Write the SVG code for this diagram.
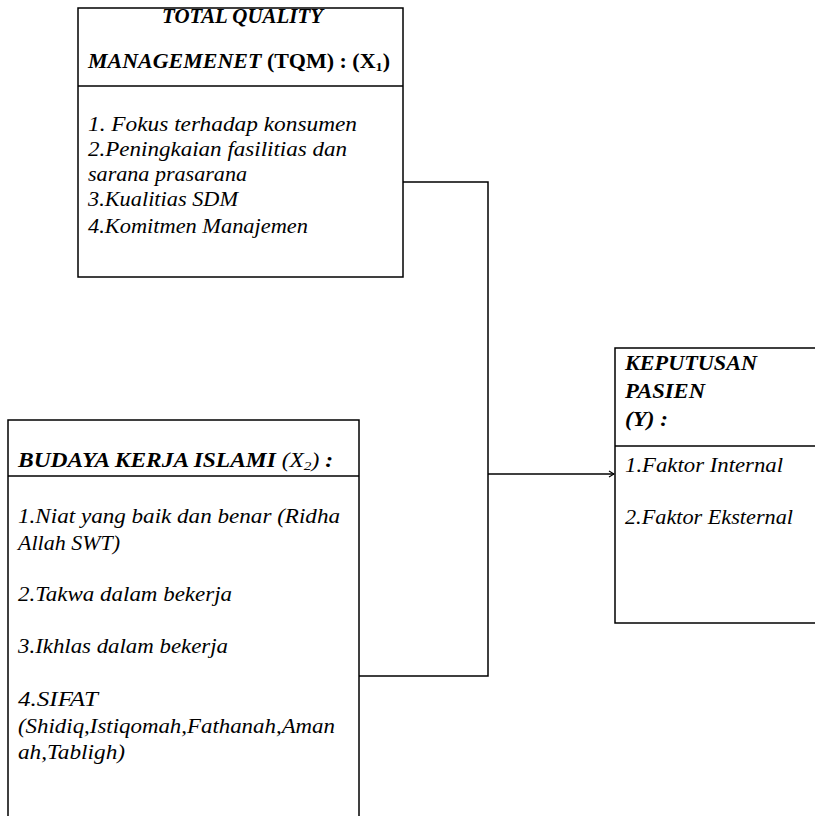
<svg xmlns="http://www.w3.org/2000/svg" width="815" height="816" viewBox="0 0 815 816">
<style>
  .box { fill: #ffffff; stroke: #000000; stroke-width: 1.5; }
  .div { stroke: #000000; stroke-width: 1.5; fill: none; }
  .conn { stroke: #000000; stroke-width: 1.5; fill: none; }
  text { font-family: "Liberation Serif", "Times New Roman", serif; fill: #000000; }
  .title { font-size: 20px; font-weight: bold; font-style: italic; }
  .item { font-size: 20px; font-style: italic; }
</style>
<defs>
  <marker id="arrow" markerWidth="8" markerHeight="8" refX="7" refY="4" orient="auto" markerUnits="userSpaceOnUse">
    <path d="M2,1 L7,4 L2,7" fill="none" stroke="#000" stroke-width="1.2"/>
  </marker>
</defs>
<rect width="815" height="816" fill="#ffffff"/>

<g id="connectors">
  <polyline class="conn" points="403,182 488,182 488,676 359,676"/>
  <line class="conn" x1="488" y1="474" x2="614" y2="474" marker-end="url(#arrow)"/>
</g>

<g id="tqm">
  <rect class="box" x="78" y="8" width="325" height="269"/>
  <line class="div" x1="78" y1="86" x2="403" y2="86"/>
  <text class="title" x="162" y="23" textLength="161" lengthAdjust="spacingAndGlyphs">TOTAL QUALITY</text>
  <text class="title" x="88" y="68" textLength="302" lengthAdjust="spacingAndGlyphs">MANAGEMENET <tspan font-style="normal">(TQM) : (X</tspan><tspan font-style="normal" font-size="13" dy="3">1</tspan><tspan font-style="normal" dy="-3">)</tspan></text>
  <text class="item" x="88" y="131" textLength="269" lengthAdjust="spacingAndGlyphs">1. Fokus terhadap konsumen</text>
  <text class="item" x="88" y="156" textLength="259" lengthAdjust="spacingAndGlyphs">2.Peningkaian fasilitias dan</text>
  <text class="item" x="88" y="181" textLength="159" lengthAdjust="spacingAndGlyphs">sarana prasarana</text>
  <text class="item" x="88" y="206" textLength="150" lengthAdjust="spacingAndGlyphs">3.Kualitias SDM</text>
  <text class="item" x="88" y="233" textLength="220" lengthAdjust="spacingAndGlyphs">4.Komitmen Manajemen</text>
</g>

<g id="budaya">
  <rect class="box" x="8" y="420" width="351" height="420"/>
  <line class="div" x1="8" y1="476" x2="359" y2="476"/>
  <text class="title" x="18" y="467" textLength="315" lengthAdjust="spacingAndGlyphs">BUDAYA KERJA ISLAMI <tspan font-weight="normal">(X</tspan><tspan font-weight="normal" font-size="13" dy="3">2</tspan><tspan font-weight="normal" dy="-3">)</tspan> :</text>
  <text class="item" x="18" y="523" textLength="322" lengthAdjust="spacingAndGlyphs">1.Niat yang baik dan benar (Ridha</text>
  <text class="item" x="18" y="550" textLength="102" lengthAdjust="spacingAndGlyphs">Allah SWT)</text>
  <text class="item" x="18" y="601" textLength="214" lengthAdjust="spacingAndGlyphs">2.Takwa dalam bekerja</text>
  <text class="item" x="18" y="653" textLength="210" lengthAdjust="spacingAndGlyphs">3.Ikhlas dalam bekerja</text>
  <text class="item" x="18" y="706" textLength="80" lengthAdjust="spacingAndGlyphs">4.SIFAT</text>
  <text class="item" x="18" y="733" textLength="317" lengthAdjust="spacingAndGlyphs">(Shidiq,Istiqomah,Fathanah,Aman</text>
  <text class="item" x="18" y="759" textLength="107" lengthAdjust="spacingAndGlyphs">ah,Tabligh)</text>
</g>

<g id="keputusan">
  <rect class="box" x="615" y="348" width="220" height="275"/>
  <line class="div" x1="615" y1="446" x2="835" y2="446"/>
  <text class="title" x="625" y="370" textLength="132" lengthAdjust="spacingAndGlyphs">KEPUTUSAN</text>
  <text class="title" x="625" y="398" textLength="80" lengthAdjust="spacingAndGlyphs">PASIEN</text>
  <text class="title" x="625" y="426" textLength="43" lengthAdjust="spacingAndGlyphs">(Y) :</text>
  <text class="item" x="625" y="472" textLength="158" lengthAdjust="spacingAndGlyphs">1.Faktor Internal</text>
  <text class="item" x="625" y="524" textLength="168" lengthAdjust="spacingAndGlyphs">2.Faktor Eksternal</text>
</g>
</svg>
